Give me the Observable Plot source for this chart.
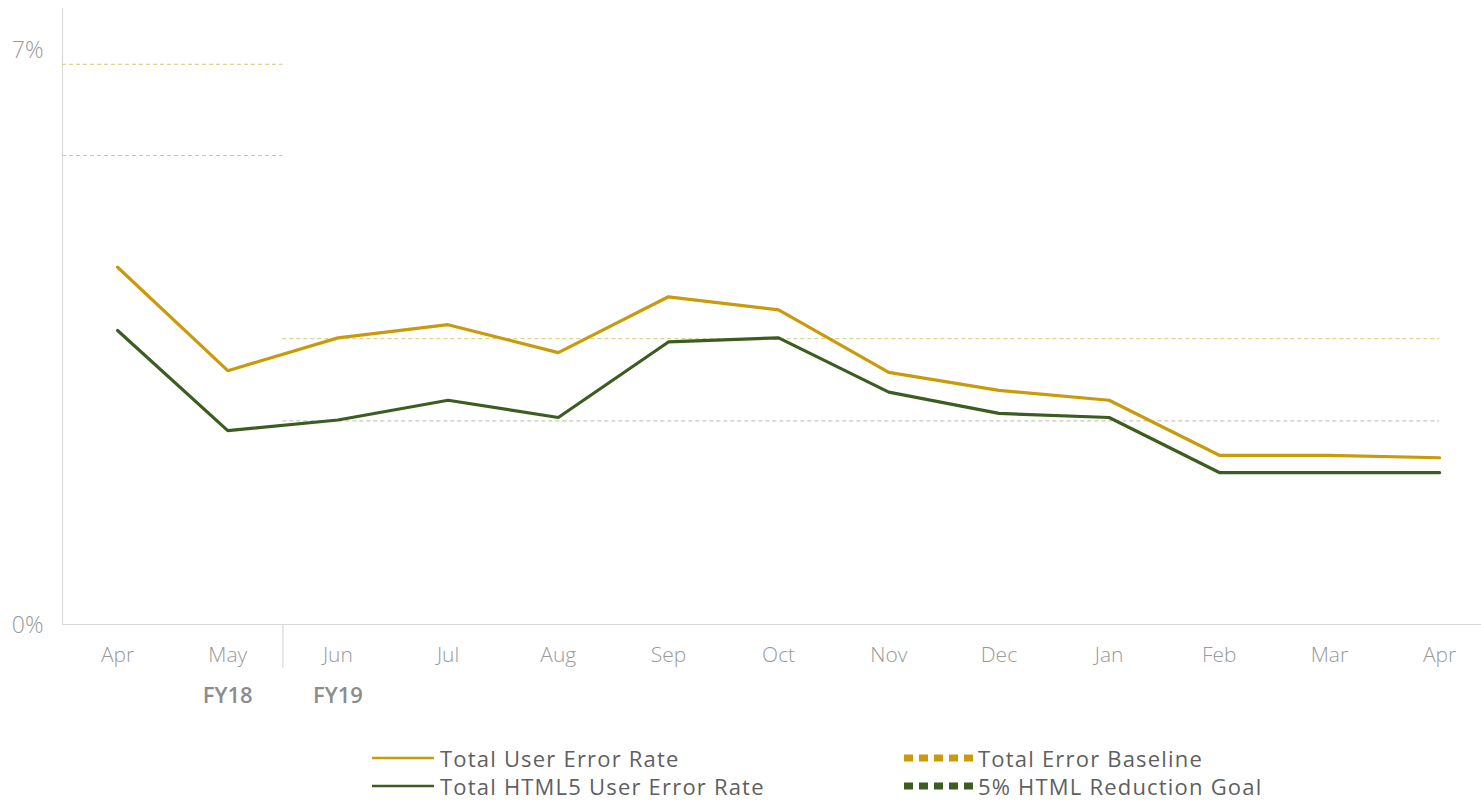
<!DOCTYPE html>
<html>
<head>
<meta charset="utf-8">
<script src="https://cdn.jsdelivr.net/npm/d3@7"></script>
<script src="https://cdn.jsdelivr.net/npm/@observablehq/plot@0.6"></script>
<style>
  html, body { margin: 0; padding: 0; background: #fff; }
  #wrap { position: relative; width: 1481px; height: 802px; overflow: hidden; font-family: "Open Sans", Lato, sans-serif; }
  #legend { position: absolute; left: 0; top: 720px; width: 1481px; height: 82px; }
  .item { position: absolute; height: 24px; line-height: 24px; display: flex; align-items: center; font-size: 22px; color: #5f5f5f; white-space: nowrap; letter-spacing: 1.2px; }
  .item svg { display: block; }
  #chart svg text.fy { letter-spacing: 0.8px; }
</style>
</head>
<body>
<div id="wrap">
  <div id="chart"></div>
  <div id="legend"></div>
</div>
<script>
// ---- data ----
const months = ["Apr","May","Jun","Jul","Aug","Sep","Oct","Nov","Dec","Jan","Feb","Mar","Apr"];
const totalUserErrorRate = [4.35, 3.09, 3.49, 3.65, 3.31, 3.99, 3.83, 3.07, 2.85, 2.73, 2.06, 2.06, 2.03];
const html5UserErrorRate = [3.58, 2.36, 2.49, 2.73, 2.52, 3.44, 3.49, 2.83, 2.57, 2.52, 1.85, 1.85, 1.85];
const fiscalYears = ["FY18", "FY19"];
const fiscalYearLabelIndex = [1, 2];
const fyStart = [-0.5, 1.5];
const fyEnd = [1.5, 12];
const totalErrorBaseline = [6.82, 3.48];
const htmlReductionGoal = [5.71, 2.48];
const yTicks = [0, 7];

const gold = "#c99a0a";
const green = "#3b5e20";
const axisText = "#9a9a9a";

const idx = months.map((_, i) => i);
const seriesUser = idx.map(i => ({i, v: totalUserErrorRate[i]}));
const seriesHtml = idx.map(i => ({i, v: html5UserErrorRate[i]}));
const refRows = fiscalYears.map((fy, k) => ({fy, x1: fyStart[k], x2: fyEnd[k], base: totalErrorBaseline[k], goal: htmlReductionGoal[k]}));
const fyRows = fiscalYears.map((fy, k) => ({fy, i: fiscalYearLabelIndex[k]}));

const chart = Plot.plot({
  width: 1481,
  height: 720,
  marginLeft: 62,
  marginRight: 0,
  marginTop: 8,
  marginBottom: 96,
  style: {fontFamily: "'Open Sans', Lato, sans-serif", background: "#fff"},
  x: {type: "linear", domain: [-0.5, 12.38], axis: null},
  y: {domain: [0, 7.5], axis: null},
  marks: [
    // axes lines
    Plot.ruleY([0], {stroke: "#d9d9d9", strokeWidth: 1.2}),
    Plot.ruleX([-0.5], {y1: 0, y2: 7.5, stroke: "#d9d9d9", strokeWidth: 1.2}),
    // fiscal year separator below axis
    Plot.ruleX([fyEnd[0]], {y1: 0, y2: 0, insetBottom: -44, stroke: "#d9d9d9", strokeWidth: 1.2}),
    // reference dashed lines
    Plot.ruleY(refRows, {y: "base", x1: "x1", x2: "x2", stroke: "#d9d68f", strokeWidth: 1.2, strokeDasharray: "4,3"}),
    Plot.ruleY(refRows, {y: "goal", x1: "x1", x2: "x2", stroke: "#c6c8bd", strokeWidth: 1.2, strokeDasharray: "4,3"}),
    // series
    Plot.line(seriesUser, {x: "i", y: "v", stroke: gold, strokeWidth: 3.2, strokeLinejoin: "miter"}),
    Plot.line(seriesHtml, {x: "i", y: "v", stroke: green, strokeWidth: 3.2, strokeLinejoin: "miter"}),
    // y tick labels
    Plot.text(yTicks, {x: -0.5, y: d => d, text: d => d + "%", textAnchor: "end", dx: -19, dy: 1, fontSize: 23, fill: axisText, fontWeight: 300}),
    // month labels
    Plot.text(idx, {x: d => d, text: d => months[d], frameAnchor: "bottom", dy: 37, fontSize: 21, fill: axisText, fontWeight: 300}),
    // fiscal year labels
    Plot.text(fyRows, {x: "i", text: "fy", frameAnchor: "bottom", dy: 78, fontSize: 22, fill: "#8c8c8c", fontWeight: 600, className: "fy"})
  ]
});
document.getElementById("chart").appendChild(chart);

// ---- legend ----
const legendItems = [
  {label: "Total User Error Rate", color: gold, dashed: false, left: 372, top: 38},
  {label: "Total HTML5 User Error Rate", color: green, dashed: false, left: 372, top: 66},
  {label: "Total Error Baseline", color: gold, dashed: true, left: 904, top: 38},
  {label: "5% HTML Reduction Goal", color: green, dashed: true, left: 904, top: 66}
];
const legend = document.getElementById("legend");
for (const it of legendItems) {
  const div = document.createElement("div");
  div.className = "item";
  div.style.left = it.left + "px";
  div.style.top = (it.top - 12) + "px";
  const w = it.dashed ? 72 : 62;
  const gap = it.dashed ? 2 : 6;
  const sw = it.dashed ? 7 : 2.5;
  const dash = it.dashed ? ' stroke-dasharray="9,6"' : '';
  div.innerHTML = `<svg width="${w}" height="12" style="margin-right:${gap}px"><line x1="0" x2="${w}" y1="6" y2="6" stroke="${it.color}" stroke-width="${sw}"${dash}/></svg><span>${it.label}</span>`;
  legend.appendChild(div);
}
</script>
</body>
</html>
